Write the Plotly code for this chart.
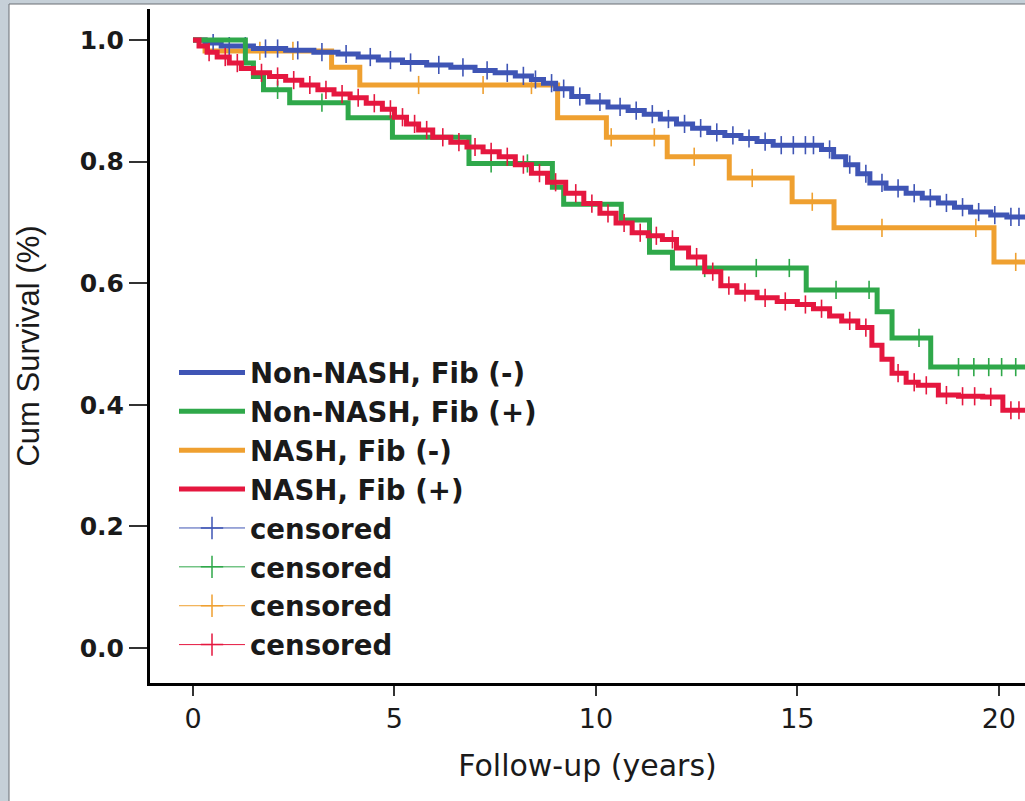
import plotly.graph_objects as go

# ---------------- data ----------------
series_names = ["Non-NASH, Fib (-)", "Non-NASH, Fib (+)", "NASH, Fib (-)", "NASH, Fib (+)"]
series_colors = ["#3F55B5", "#2FA84A", "#EFA030", "#E5173F"]

blue_t = [0, 0.3, 0.7, 1.5, 2.3, 3.0, 3.6, 4.1, 4.6, 5.2, 5.8, 6.4, 7.0, 7.5, 8.0, 8.4, 8.7, 9.0, 9.4,
          9.8, 10.3, 10.8, 11.2, 11.6, 12.0, 12.4, 12.8, 13.2, 13.6, 14.0, 14.4, 15.6, 15.9, 16.2, 16.5,
          16.8, 17.2, 17.7, 18.1, 18.5, 18.9, 19.3, 19.8, 20.2, 20.9]
blue_s = [1.0, 0.995, 0.990, 0.986, 0.983, 0.980, 0.977, 0.972, 0.967, 0.963, 0.959, 0.955, 0.950, 0.946,
          0.941, 0.935, 0.929, 0.920, 0.907, 0.898, 0.890, 0.884, 0.878, 0.870, 0.862, 0.855, 0.848, 0.843,
          0.838, 0.833, 0.827, 0.820, 0.808, 0.795, 0.780, 0.765, 0.756, 0.748, 0.740, 0.732, 0.725, 0.717,
          0.712, 0.709, 0.709]
blue_cens = [0.5, 0.9, 1.3, 1.8, 2.1, 2.6, 3.2, 3.8, 4.4, 4.9, 5.4, 6.1, 6.7, 7.3, 7.8, 8.2, 8.5, 8.9, 9.2,
             9.6, 10.1, 10.6, 11.0, 11.4, 11.8, 12.2, 12.6, 13.0, 13.4, 13.8, 14.2, 14.6, 14.9, 15.2, 15.4,
             15.8, 16.3, 16.7, 17.1, 17.5, 17.9, 18.3, 18.7, 19.1, 19.5, 19.9, 20.3, 20.5]

green_t = [0, 1.3, 1.5, 1.75, 2.4, 3.85, 4.95, 6.85, 8.92, 9.2, 10.63, 11.33, 11.9, 15.22, 16.98, 17.35,
           18.31, 20.9]
green_s = [1.0, 0.962, 0.940, 0.918, 0.897, 0.872, 0.840, 0.797, 0.758, 0.730, 0.704, 0.651, 0.625, 0.589,
           0.553, 0.510, 0.462, 0.462]
green_cens = [2.1, 3.2, 7.4, 8.3, 12.7, 13.98, 14.8, 15.96, 16.78, 18.02, 19.0, 19.38, 19.75, 20.07, 20.42]

orange_t = [0, 0.3, 3.44, 4.14, 9.05, 10.26, 11.77, 13.31, 14.87, 15.91, 19.88, 20.9]
orange_s = [1.0, 0.982, 0.955, 0.926, 0.872, 0.840, 0.808, 0.773, 0.734, 0.691, 0.635, 0.635]
orange_cens = [1.66, 2.48, 5.6, 7.2, 8.4, 10.38, 11.45, 12.44, 13.88, 15.37, 17.1, 19.43, 20.42]

red_t = [0, 0.15, 0.35, 0.6, 0.9, 1.2, 1.5, 1.9, 2.3, 2.7, 3.1, 3.5, 3.9, 4.3, 4.7, 5.0, 5.3, 5.6, 5.95,
         6.4, 6.8, 7.2, 7.6, 8.0, 8.4, 8.8, 9.25, 9.7, 10.1, 10.5, 10.9, 11.3, 11.65, 12.0, 12.3, 12.7,
         13.1, 13.5, 14.0, 14.5, 15.0, 15.4, 15.8, 16.1, 16.5, 16.85, 17.1, 17.35, 17.7, 18.0, 18.5, 19.0,
         19.6, 20.1, 20.9]
red_s = [1.0, 0.990, 0.980, 0.972, 0.962, 0.953, 0.946, 0.940, 0.934, 0.926, 0.918, 0.911, 0.905, 0.896,
         0.886, 0.873, 0.862, 0.852, 0.840, 0.832, 0.824, 0.816, 0.808, 0.795, 0.781, 0.766, 0.748, 0.731,
         0.715, 0.699, 0.683, 0.678, 0.672, 0.658, 0.643, 0.619, 0.596, 0.585, 0.576, 0.570, 0.565, 0.558,
         0.546, 0.538, 0.527, 0.498, 0.475, 0.452, 0.437, 0.432, 0.416, 0.414, 0.413, 0.391, 0.387]
red_cens = [0.4, 0.8, 1.1, 1.7, 2.1, 2.5, 2.9, 3.3, 3.7, 4.1, 4.5, 4.9, 5.2, 5.5, 5.8, 6.2, 6.6, 7.0, 7.4,
            7.8, 8.2, 8.6, 9.0, 9.5, 9.9, 10.3, 10.7, 11.1, 11.5, 11.9, 12.5, 12.9, 13.3, 13.7, 14.2, 14.7,
            15.2, 15.6, 16.3, 16.7, 17.5, 17.9, 18.2, 18.7, 19.1, 19.4, 19.8, 20.3, 20.5]

x_ticks = [0, 5, 10, 15, 20]
y_ticks = [0.0, 0.2, 0.4, 0.6, 0.8, 1.0]
y_tick_labels = ["0.0", "0.2", "0.4", "0.6", "0.8", "1.0"]


def surv_at(times, surv, t):
    val = surv[0]
    for ti, si in zip(times, surv):
        if ti <= t:
            val = si
        else:
            break
    return val


curves = [
    (blue_t, blue_s, blue_cens),
    (green_t, green_s, green_cens),
    (orange_t, orange_s, orange_cens),
    (red_t, red_s, red_cens),
]
draw_order = [2, 0, 1, 3]

fig = go.Figure()

for idx in draw_order:
    t, s, c = curves[idx]
    col = series_colors[idx]
    fig.add_trace(go.Scatter(
        x=t, y=s, mode="lines", line=dict(color=col, width=5, shape="hv"),
        name=series_names[idx], legendrank=idx + 1, showlegend=True, hoverinfo="skip"))
    fig.add_trace(go.Scatter(
        x=c, y=[surv_at(t, s, ci) for ci in c], mode="markers",
        marker=dict(symbol="line-ns", size=13, line=dict(color=col, width=1.6)),
        showlegend=False, hoverinfo="skip"))

# legend entries for censor marks
for idx in range(4):
    fig.add_trace(go.Scatter(
        x=[None], y=[None], mode="lines+markers", name="censored", legendrank=5 + idx,
        line=dict(color=series_colors[idx], width=1),
        marker=dict(symbol="cross-thin", size=16, line=dict(color=series_colors[idx], width=1.5)),
        showlegend=True))

W, H = 1025, 801
L, R, T, B = 150, 0, 9, 118
pw, ph = W - L - R, H - T - B


def px_x(px):
    return (px - L) / pw


def px_y(py):
    return (H - B - py) / ph


fig.update_layout(
    width=W, height=H,
    margin=dict(l=L, r=R, t=T, b=B, pad=0),
    paper_bgcolor="#C6D0D8",
    plot_bgcolor="white",
    font=dict(family="DejaVu Sans", color="#1a1a1a"),
    showlegend=True,
    legend=dict(
        x=px_x(174), y=px_y(348), xanchor="left", yanchor="top",
        bgcolor="rgba(0,0,0,0)", borderwidth=0,
        font=dict(family="DejaVu Sans", size=27.6, weight="bold", color="#1a1a1a"),
        itemwidth=66, tracegroupgap=0, traceorder="normal",
    ),
    shapes=[dict(type="rect", xref="paper", yref="paper", layer="below",
                 x0=px_x(9), x1=px_x(1040), y0=px_y(820), y1=px_y(4),
                 fillcolor="white", line=dict(color="#6a6f74", width=1))],
    xaxis=dict(
        range=[-1.067, 20.65], tickmode="array", tickvals=x_ticks,
        ticktext=[str(v) for v in x_ticks],
        showline=True, linecolor="black", linewidth=3, mirror=False,
        showgrid=False, zeroline=False,
        ticks="outside", ticklen=10, tickwidth=1.5, tickcolor="#333",
        tickfont=dict(family="DejaVu Sans", size=27, color="#1a1a1a"),
        title=dict(text="Follow-up (years)", standoff=22,
                   font=dict(family="DejaVu Sans", size=30, color="#1a1a1a")),
        automargin=False,
    ),
    yaxis=dict(
        range=[-0.0576, 1.051], tickmode="array", tickvals=y_ticks, ticktext=y_tick_labels,
        showline=True, linecolor="black", linewidth=3, mirror=False,
        showgrid=False, zeroline=False,
        ticks="outside", ticklen=18, tickwidth=1.5, tickcolor="#333",
        tickfont=dict(family="DejaVu Sans", size=25, weight="bold", color="#1a1a1a"),
        title=dict(text="Cum Survival (%)", standoff=31,
                   font=dict(family="Liberation Sans Narrow, Liberation Sans", size=31, color="#1a1a1a")),
        automargin=False,
    ),
)

fig.write_html("out.html", config={"displayModeBar": False},
               post_script="document.body.style.margin='0';document.body.style.overflow='hidden';")
